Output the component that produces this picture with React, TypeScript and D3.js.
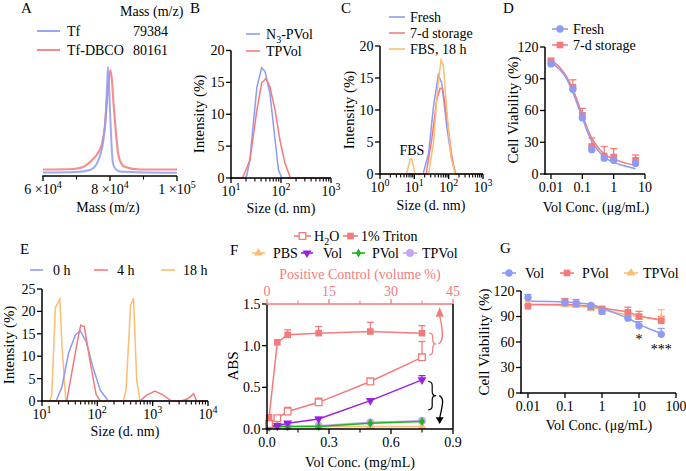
import React from "react";
import * as d3 from "d3";

const FONT = "'Liberation Serif', 'Times New Roman', Times, serif";
const BLUE = "#8d9bf7";
const RED = "#f47b7b";
const ORANGE = "#fdbd73";
const PURPLE = "#9b1fe0";
const GREEN = "#1fb51f";
const LAVENDER = "#c4a6f2";
const PINK = "#f47b7b";

// ---------- A: mass spectra ----------
const aTfMass = [60000, 70000, 74000, 76000, 77000, 78000, 78700, 79200, 79384, 79700, 80000, 80200, 80500, 81000, 82000, 83000, 88000, 100000];
const aTfInt = [3.5, 4, 6, 12, 20, 35, 60, 95, 109, 92, 65, 50, 28, 11, 6, 4.5, 3.8, 3.3];
const aDbMass = [60000, 69000, 72000, 74000, 76000, 77500, 78500, 79000, 79600, 80161, 80600, 81000, 81500, 82000, 82500, 83500, 84500, 89000, 100000];
const aDbInt = [6.5, 7, 9, 14, 21, 31, 50, 71, 95, 106, 95, 75, 54, 35, 21, 12, 9, 6.5, 6.5];
const aTicks = [60000, 80000, 100000];
const aMinor = [70000, 90000];
const aLegendNames = ["Tf", "Tf-DBCO"];
const aLegendMass = ["79384", "80161"];

// ---------- B: DLS ----------
const bN3Size = [10, 19, 20.6, 24, 26, 33, 41, 48, 60, 76, 89, 103, 1000];
const bN3Int = [0, 0, 0.3, 3, 6, 14.3, 17.3, 16.7, 13.3, 6, 1.3, 0, 0];
const bTPSize = [10, 17, 24, 33, 41, 50, 60, 76, 95, 120, 155, 1000];
const bTPInt = [0, 0, 2.8, 10.7, 14.9, 15.6, 14.3, 10.7, 6, 2.3, 0, 0];
const bYTicks = [0, 5, 10, 15, 20];

// ---------- C: DLS stability ----------
const cFreshSize = [1, 18, 26, 36, 50, 63, 88, 123, 161, 1000];
const cFreshInt = [0, 0, 3.2, 10.5, 15.5, 14.2, 7.4, 2.2, 0, 0];
const c7dSize = [1, 22, 32, 45, 56, 67, 88, 120, 155, 1000];
const c7dInt = [0, 0, 5.3, 11.6, 13.4, 13.3, 9, 3.2, 0, 0];
const cFBSSize = [1, 6, 7.5, 8.4, 10.5, 26, 36, 48, 60, 70, 88, 117, 155, 1000];
const cFBSInt = [0, 0, 2.3, 2.4, 0, 0, 4.8, 13.6, 17.8, 17, 10, 2.7, 0, 0];
const cYTicks = [0, 5, 10, 15, 20];

// ---------- D: viability ----------
const dConc = [0.01, 0.05, 0.1, 0.2, 0.5, 1, 5];
const dFresh = [104, 80, 53, 23, 15, 13, 10];
const dFreshErr = [3, 3, 5, 3, 2, 2, 2];
const d7d = [107, 82, 55, 26, 17, 16, 13];
const d7dErr = [2, 7, 7, 8, 9, 8, 5];
const dFitConc = [0.01, 0.02, 0.03, 0.05, 0.1, 0.2, 0.5, 1, 2, 5];
const dFreshFit = [106, 98, 91, 77, 53, 31, 16, 11, 8, 5];
const d7dFit = [108, 100, 93, 80, 56, 34, 19, 14, 11, 8];
const dYTicks = [0, 30, 60, 90, 120];
const dXTicks = [0.01, 0.1, 1, 10];

// ---------- E: DLS in serum ----------
const e0Size = [10, 18, 23, 30, 40, 49, 63, 83, 113, 132, 158, 10000];
const e0Int = [0, 0, 3.2, 10.6, 14.7, 15.7, 13.2, 7.6, 2.4, 1.3, 0, 0];
const e4Size = [10, 28, 35, 44, 50, 58, 75, 95, 113, 590, 775, 1100, 1550, 2200, 3300, 4300, 5500, 6200, 10000];
const e4Int = [0, 0, 6.7, 13.6, 16.9, 16.6, 8.4, 1.5, 0, 0, 1.3, 2.2, 1.3, 0, 0, 0.5, 1.6, 0, 0];
const e18Size = [10, 13.7, 15, 17.4, 21, 23, 27, 295, 330, 400, 450, 515, 590, 10000];
const e18Int = [0, 0, 1.2, 20.8, 22.7, 12, 0, 0, 2.5, 21.4, 22.9, 4.7, 0, 0];
const eYTicks = [0, 5, 10, 15, 20, 25];

// ---------- F: hemolysis ----------
const fConc = [0.01, 0.05, 0.1, 0.25, 0.5, 0.75];
const fPosVol = [0.5, 2.5, 5, 12.5, 25, 37.5];
const fTriton = [0.14, 1.04, 1.13, 1.15, 1.17, 1.15];
const fTritonErr = [0, 0, 0.06, 0.08, 0.11, 0.09];
const fH2O = [0.06, 0.13, 0.21, 0.32, 0.57, 0.86];
const fH2OErr = [0, 0.02, 0.05, 0.05, 0.04, 0.19];
const fVol = [0.04, 0.04, 0.07, 0.12, 0.34, 0.59];
const fVolErr = [0, 0, 0.01, 0.02, 0.02, 0.05];
const fPVol = [0.02, 0.03, 0.03, 0.03, 0.07, 0.09];
const fTPVol = [0.03, 0.03, 0.03, 0.04, 0.08, 0.1];
const fPBS = [0.03, 0.03, 0.03, 0.03, 0.03, 0.03];
const fYTicks = [0, 0.5, 1.0, 1.5];
const fXTicks = [0, 0.3, 0.6, 0.9];
const fXMinor = [0.15, 0.45, 0.75];
const fTopTicks = [0, 15, 30, 45];
const fTopMinor = [7.5, 22.5, 37.5];

// ---------- G: viability ----------
const gConc = [0.01, 0.1, 0.2, 0.5, 1, 5, 10, 40];
const gVol = [112, 106, 105, 103, 96, 88, 79, 69];
const gVolErr = [4, 2, 2, 2, 2, 2, 5, 7];
const gPVol = [102, 108, 105, 101, 99, 95, 90, 85];
const gPVolErr = [2, 3, 5, 2, 2, 6, 6, 5];
const gTPVol = [105, 104, 103, 100, 95, 93, 89, 88];
const gTPVolErr = [3, 3, 3, 2, 2, 2, 3, 10];
const gFitConc = [0.01, 0.1, 0.5, 1, 2, 5, 10, 20, 40];
const gVolFit = [108, 107, 104, 100, 95, 88, 81, 75, 70];
const gPVolFit = [104, 104, 102, 100, 98, 95, 91, 88, 86];
const gTPVolFit = [104, 103, 101, 98, 95, 92, 90, 88, 87];
const gYTicks = [0, 30, 60, 90, 120];
const gXTicks = [0.01, 0.1, 1, 10, 100];

type S = (v: number) => number;

const path = (xs: number[], ys: number[], x: S, y: S, curve: any = d3.curveLinear) =>
  d3.line<number>().x((i) => x(xs[i])).y((i) => y(ys[i])).curve(curve)(xs.map((_, i) => i)) || "";

const sym = (type: any, size: number) => d3.symbol().type(type).size(size)() || "";

const sup = (base: string, e: number | string) => (
  <>
    {base}
    <tspan dy={-6} fontSize={10}>{e}</tspan>
  </>
);

const fmtNum = (t: number) => String(t);
const TS: React.CSSProperties = { fontFamily: FONT };

function T(props: any) {
  return <text {...props} style={TS} />;
}

function AxisLeft({ y, x, ticks, fmt = fmtNum }: any) {
  const [r0, r1] = y.range();
  return (
    <g>
      {ticks.map((t: number) => (
        <g key={t}>
          <line x1={x - 5} x2={x} y1={y(t)} y2={y(t)} stroke="#000" strokeWidth={1.3} />
          <T x={x - 6.5} y={y(t)} dy="0.35em" textAnchor="end" fontSize={14}>
            {fmt(t)}
          </T>
        </g>
      ))}
      <line x1={x} x2={x} y1={r0 + 0.7} y2={r1} stroke="#000" strokeWidth={1.5} />
    </g>
  );
}

function AxisBottom({ x, y, ticks, labels, minor = [], color = "#000", top = false }: any) {
  const [r0, r1] = x.range();
  const dir = top ? -1 : 1;
  return (
    <g>
      {ticks.map((t: number, i: number) => (
        <g key={"t" + i}>
          <line x1={x(t)} x2={x(t)} y1={y} y2={y + 5 * dir} stroke={color} strokeWidth={1.3} />
          <T x={x(t)} y={top ? y - 8 : y + 18} textAnchor="middle" fontSize={14} fill={color}>
            {labels[i]}
          </T>
        </g>
      ))}
      {minor.map((t: number, i: number) => (
        <line key={"m" + i} x1={x(t)} x2={x(t)} y1={y} y2={y + 3.5 * dir} stroke={color} strokeWidth={1.1} />
      ))}
      <line x1={r0 - 0.7} x2={r1} y1={y} y2={y} stroke={color} strokeWidth={1.5} />
    </g>
  );
}

const logMinor = (lo: number, hi: number) => {
  const out: number[] = [];
  for (let d = lo; d < hi; d *= 10) for (let k = 2; k <= 9; k++) out.push(d * k);
  return out;
};

function YTitle({ x, y, text, size = 15 }: any) {
  return (
    <T transform={`translate(${x},${y}) rotate(-90)`} textAnchor="middle" dy="0.35em" fontSize={size}>
      {text}
    </T>
  );
}

function ErrUp({ xs, ys, es, x, y, color }: any) {
  return (
    <g stroke={color} strokeWidth={1.3}>
      {xs.map((v: number, i: number) =>
        es[i] > 0 ? (
          <g key={i}>
            <line x1={x(v)} x2={x(v)} y1={y(ys[i])} y2={y(ys[i] + es[i])} />
            <line x1={x(v) - 3.5} x2={x(v) + 3.5} y1={y(ys[i] + es[i])} y2={y(ys[i] + es[i])} />
          </g>
        ) : null
      )}
    </g>
  );
}

function Marks({ xs, ys, x, y, d, fill, stroke = "none", rot = 0 }: any) {
  return (
    <g>
      {xs.map((v: number, i: number) => (
        <path
          key={i}
          d={d}
          transform={`translate(${x(v)},${y(ys[i])}) rotate(${rot})`}
          fill={fill}
          stroke={stroke}
          strokeWidth={1.3}
        />
      ))}
    </g>
  );
}

function LegendItem({ x1, x2, y, color, text, d, fill, stroke = "none", rot = 0, tx }: any) {
  return (
    <g>
      <line x1={x1} x2={x2} y1={y} y2={y} stroke={color} strokeWidth={1.6} />
      {d ? (
        <path d={d} transform={`translate(${(x1 + x2) / 2},${y}) rotate(${rot})`} fill={fill} stroke={stroke} strokeWidth={1.3} />
      ) : null}
      <T x={tx} y={y + 5} fontSize={14}>
        {text}
      </T>
    </g>
  );
}

const brace = (x: number, y1: number, y2: number, w: number) => {
  const ym = (y1 + y2) / 2;
  const h = w / 2;
  return `M${x},${y1} Q${x + h},${y1} ${x + h},${y1 + 4} L${x + h},${ym - 4} Q${x + h},${ym} ${x + w},${ym} Q${x + h},${ym} ${x + h},${ym + 4} L${x + h},${y2 - 4} Q${x + h},${y2} ${x},${y2}`;
};

export default function App() {
  const xA = d3.scaleLinear().domain([60000, 100000]).range([43, 177]);
  const yA = d3.scaleLinear().domain([0, 110]).range([176, 66]);
  const xB = d3.scaleLog().domain([10, 1000]).range([231, 331]);
  const yB = d3.scaleLinear().domain([0, 20]).range([178, 50.5]);
  const xC = d3.scaleLog().domain([1, 1000]).range([380, 483]);
  const yC = d3.scaleLinear().domain([0, 20]).range([174, 46]);
  const xD = d3.scaleLog().domain([0.00644, 10]).range([545, 645]);
  const yD = d3.scaleLinear().domain([0, 120]).range([174, 47]);
  const xE = d3.scaleLog().domain([10, 10000]).range([42, 208]);
  const yE = d3.scaleLinear().domain([0, 25]).range([401, 289]);
  const xF = d3.scaleLinear().domain([0, 0.9]).range([267, 453]);
  const xFt = d3.scaleLinear().domain([0, 45]).range([267, 453]);
  const yF = d3.scaleLinear().domain([0, 1.5]).range([429, 304]);
  const xG = d3.scaleLog().domain([0.00647, 100]).range([521, 676]);
  const yG = d3.scaleLinear().domain([0, 120]).range([393, 291]);

  const circle = sym(d3.symbolCircle, 42);
  const square = sym(d3.symbolSquare, 44);
  const tri = sym(d3.symbolTriangle, 34);
  const diamond = sym(d3.symbolDiamond, 24);
  const smallCircle = sym(d3.symbolCircle, 48);

  const smooth = d3.curveMonotoneX;

  return (
    <svg width={686} height={471} style={{ position: "absolute", left: 0, top: 0, background: "#fff", fontFamily: FONT }}>
      <rect x={0} y={0} width={686} height={471} fill="#fff" />

      {/* ================= A ================= */}
      <g>
        <T x={21} y={13} fontSize={15}>A</T>
        <T x={120} y={16} fontSize={14}>Mass (m/z)</T>
        {[BLUE, RED].map((c, i) => (
          <g key={i}>
            <line x1={37} x2={60} y1={31 + i * 19} y2={31 + i * 19} stroke={c} strokeWidth={1.8} />
            <T x={67} y={36 + i * 19} fontSize={14}>{aLegendNames[i]}</T>
            <T x={133} y={36 + i * 19} fontSize={14}>{aLegendMass[i]}</T>
          </g>
        ))}
        <path d={path(aDbMass, aDbInt, xA, yA, smooth)} fill="none" stroke={RED} strokeWidth={2.2} strokeOpacity={0.85} />
        <path d={path(aTfMass, aTfInt, xA, yA, smooth)} fill="none" stroke={BLUE} strokeWidth={2} strokeOpacity={0.85} />
        <AxisBottom x={xA} y={176} ticks={aTicks} minor={aMinor} labels={[sup("6 ×10", 4), sup("8 ×10", 4), sup("1 ×10", 5)]} />
        <T x={108} y={212} textAnchor="middle" fontSize={14}>Mass (m/z)</T>
      </g>

      {/* ================= B ================= */}
      <g>
        <T x={190} y={13} fontSize={15}>B</T>
        <LegendItem x1={246} x2={260} y={34} color={BLUE} tx={266} text={<>N<tspan dy={4} fontSize={10}>3</tspan><tspan dy={-4}>-PVol</tspan></>} />
        <LegendItem x1={246} x2={260} y={51} color={RED} tx={266} text="TPVol" />
        <path d={path(bN3Size, bN3Int, xB, yB)} fill="none" stroke={BLUE} strokeWidth={1.5} />
        <path d={path(bTPSize, bTPInt, xB, yB)} fill="none" stroke={RED} strokeWidth={1.5} />
        <AxisLeft y={yB} x={231} ticks={bYTicks} />
        <AxisBottom x={xB} y={178} ticks={[10, 100, 1000]} minor={logMinor(10, 1000)} labels={[sup("10", 1), sup("10", 2), sup("10", 3)]} />
        <YTitle x={199} y={114} text="Intensity (%)" />
        <T x={281} y={213} textAnchor="middle" fontSize={14}>Size (d. nm)</T>
      </g>

      {/* ================= C ================= */}
      <g>
        <T x={341} y={13} fontSize={15}>C</T>
        <LegendItem x1={389} x2={405} y={17} color={BLUE} tx={410} text="Fresh" />
        <LegendItem x1={389} x2={405} y={33} color={RED} tx={410} text="7-d storage" />
        <LegendItem x1={389} x2={405} y={49} color={ORANGE} tx={410} text="FBS, 18 h" />
        <path d={path(cFreshSize, cFreshInt, xC, yC)} fill="none" stroke={BLUE} strokeWidth={1.5} />
        <path d={path(c7dSize, c7dInt, xC, yC)} fill="none" stroke={RED} strokeWidth={1.5} />
        <path d={path(cFBSSize, cFBSInt, xC, yC)} fill="none" stroke={ORANGE} strokeWidth={1.5} />
        <T x={xC(8.5)} y={155} textAnchor="middle" fontSize={14}>FBS</T>
        <AxisLeft y={yC} x={380} ticks={cYTicks} />
        <AxisBottom x={xC} y={174} ticks={[1, 10, 100, 1000]} minor={logMinor(1, 1000)} labels={[sup("10", 0), sup("10", 1), sup("10", 2), sup("10", 3)]} />
        <YTitle x={349} y={110} text="Intensity (%)" />
        <T x={431} y={210} textAnchor="middle" fontSize={14}>Size (d. nm)</T>
      </g>

      {/* ================= D ================= */}
      <g>
        <T x={503} y={13} fontSize={15}>D</T>
        <LegendItem x1={552} x2={568} y={29} color={BLUE} d={circle} fill={BLUE} tx={573} text="Fresh" />
        <LegendItem x1={552} x2={568} y={45} color={RED} d={square} fill={RED} tx={573} text="7-d storage" />
        <path d={path(dFitConc, d7dFit, xD, yD, d3.curveCatmullRom)} fill="none" stroke={RED} strokeWidth={1.5} />
        <path d={path(dFitConc, dFreshFit, xD, yD, d3.curveCatmullRom)} fill="none" stroke={BLUE} strokeWidth={1.5} />
        <ErrUp xs={dConc} ys={d7d} es={d7dErr} x={xD} y={yD} color={RED} />
        <ErrUp xs={dConc} ys={dFresh} es={dFreshErr} x={xD} y={yD} color={BLUE} />
        <Marks xs={dConc} ys={d7d} x={xD} y={yD} d={square} fill={RED} />
        <Marks xs={dConc} ys={dFresh} x={xD} y={yD} d={circle} fill={BLUE} />
        <AxisLeft y={yD} x={545} ticks={dYTicks} />
        <AxisBottom x={xD} y={174} ticks={dXTicks} labels={dXTicks.map((t) => String(t))} />
        <YTitle x={513} y={110} text="Cell Viability (%)" />
        <T x={596} y={212} textAnchor="middle" fontSize={14}>Vol Conc. (μg/mL)</T>
      </g>

      {/* ================= E ================= */}
      <g>
        <T x={20} y={254} fontSize={15}>E</T>
        <LegendItem x1={30} x2={43} y={270} color={BLUE} tx={53} text="0 h" />
        <LegendItem x1={94} x2={108} y={270} color={RED} tx={117} text="4 h" />
        <LegendItem x1={161} x2={175} y={270} color={ORANGE} tx={183} text="18 h" />
        <path d={path(e18Size, e18Int, xE, yE)} fill="none" stroke={ORANGE} strokeWidth={1.5} />
        <path d={path(e0Size, e0Int, xE, yE)} fill="none" stroke={BLUE} strokeWidth={1.5} />
        <path d={path(e4Size, e4Int, xE, yE)} fill="none" stroke={RED} strokeWidth={1.5} />
        <AxisLeft y={yE} x={42} ticks={eYTicks} />
        <AxisBottom x={xE} y={401} ticks={[10, 100, 1000, 10000]} minor={logMinor(10, 10000)} labels={[sup("10", 1), sup("10", 2), sup("10", 3), sup("10", 4)]} />
        <YTitle x={9} y={345} text="Intensity (%)" />
        <T x={125} y={436} textAnchor="middle" fontSize={14}>Size (d. nm)</T>
      </g>

      {/* ================= F ================= */}
      <g>
        <T x={230} y={255} fontSize={15}>F</T>
        <LegendItem x1={294} x2={311} y={236} color={PINK} d={square} fill="#fff" stroke={PINK} tx={314} text={<>H<tspan dy={4} fontSize={10}>2</tspan><tspan dy={-4}>O</tspan></>} />
        <LegendItem x1={343} x2={358} y={236} color={PINK} d={square} fill={PINK} tx={361} text="1% Triton" />
        <LegendItem x1={252} x2={265} y={253} color={ORANGE} d={tri} fill={ORANGE} tx={273} text="PBS" />
        <LegendItem x1={301} x2={313} y={253} color={PURPLE} d={tri} fill={PURPLE} rot={180} tx={323} text="Vol" />
        <LegendItem x1={352} x2={365} y={253} color={GREEN} d={diamond} fill={GREEN} tx={372} text="PVol" />
        <LegendItem x1={403} x2={417} y={253} color={LAVENDER} d={smallCircle} fill={LAVENDER} tx={422} text="TPVol" />

        <T x={360} y={279} textAnchor="middle" fontSize={14} fill={PINK}>Positive Control (volume %)</T>

        <path d={path(fConc, fPBS, xF, yF)} fill="none" stroke={ORANGE} strokeWidth={1.5} />
        <Marks xs={fConc} ys={fPBS} x={xF} y={yF} d={tri} fill={ORANGE} />
        <path d={path(fConc, fTPVol, xF, yF)} fill="none" stroke={LAVENDER} strokeWidth={1.5} />
        <Marks xs={fConc} ys={fTPVol} x={xF} y={yF} d={smallCircle} fill={LAVENDER} />
        <path d={path(fConc, fPVol, xF, yF)} fill="none" stroke={GREEN} strokeWidth={1.5} />
        <Marks xs={fConc} ys={fPVol} x={xF} y={yF} d={diamond} fill={GREEN} />
        <path d={path(fConc, fVol, xF, yF)} fill="none" stroke={PURPLE} strokeWidth={1.5} />
        <ErrUp xs={fConc} ys={fVol} es={fVolErr} x={xF} y={yF} color={PURPLE} />
        <Marks xs={fConc} ys={fVol} x={xF} y={yF} d={tri} fill={PURPLE} rot={180} />

        <path d={path(fPosVol, fH2O, xFt, yF)} fill="none" stroke={PINK} strokeWidth={1.5} />
        <ErrUp xs={fPosVol} ys={fH2O} es={fH2OErr} x={xFt} y={yF} color={PINK} />
        <Marks xs={fPosVol} ys={fH2O} x={xFt} y={yF} d={square} fill="#fff" stroke={PINK} />
        <path d={path(fPosVol, fTriton, xFt, yF)} fill="none" stroke={PINK} strokeWidth={1.5} />
        <ErrUp xs={fPosVol} ys={fTriton} es={fTritonErr} x={xFt} y={yF} color={PINK} />
        <Marks xs={fPosVol} ys={fTriton} x={xFt} y={yF} d={square} fill={PINK} />

        <path d={brace(xF(0.785), yF(1.15), yF(0.89), 7)} fill="none" stroke={PINK} strokeWidth={1.2} />
        <path d={`M${xF(0.79) + 8},${yF(1.02)} C${xF(0.84) + 4},${yF(1.05)} ${xF(0.85)},${yF(1.2)} ${xF(0.85) - 3},${yF(1.36)}`} fill="none" stroke={PINK} strokeWidth={1.3} />
        <path d={`M${xF(0.85) - 3},${yF(1.5) + 3} L${xF(0.85) - 7},${yF(1.36) + 1} L${xF(0.85) + 1},${yF(1.36) + 1} Z`} fill={PINK} />
        <path d={brace(xF(0.78), yF(0.57), yF(0.23), 8)} fill="none" stroke="#000" strokeWidth={1.2} />
        <path d={`M${xF(0.79) + 9},${yF(0.4)} C${xF(0.84) + 4},${yF(0.37)} ${xF(0.85)},${yF(0.3)} ${xF(0.85) - 3},${yF(0.13)}`} fill="none" stroke="#000" strokeWidth={1.3} />
        <path d={`M${xF(0.85) - 3},${yF(0.06)} L${xF(0.85) - 7},${yF(0.14)} L${xF(0.85) + 1},${yF(0.14)} Z`} fill="#000" />

        <AxisLeft y={yF} x={267} ticks={fYTicks} fmt={(t: number) => t.toFixed(1)} />
        <AxisBottom x={xF} y={429} ticks={fXTicks} minor={fXMinor} labels={fXTicks.map((t) => t.toFixed(1))} />
        <AxisBottom x={xFt} y={304} ticks={fTopTicks} minor={fTopMinor} labels={fTopTicks.map(String)} color={PINK} top />
        <line x1={453} x2={453} y1={304} y2={429} stroke="#000" strokeWidth={1.5} />
        <YTitle x={233} y={366} text="ABS" />
        <T x={360} y={467} textAnchor="middle" fontSize={14}>Vol Conc. (mg/mL)</T>
      </g>

      {/* ================= G ================= */}
      <g>
        <T x={500} y={253} fontSize={15}>G</T>
        <LegendItem x1={502} x2={516} y={273} color={BLUE} d={circle} fill={BLUE} tx={525} text="Vol" />
        <LegendItem x1={560} x2={574} y={273} color={RED} d={square} fill={RED} tx={582} text="PVol" />
        <LegendItem x1={624} x2={638} y={273} color={ORANGE} d={tri} fill={ORANGE} tx={643} text="TPVol" />
        <path d={path(gFitConc, gTPVolFit, xG, yG, d3.curveCatmullRom)} fill="none" stroke={ORANGE} strokeWidth={1.5} />
        <path d={path(gFitConc, gPVolFit, xG, yG, d3.curveCatmullRom)} fill="none" stroke={RED} strokeWidth={1.5} />
        <path d={path(gFitConc, gVolFit, xG, yG, d3.curveCatmullRom)} fill="none" stroke={BLUE} strokeWidth={1.5} />
        <ErrUp xs={gConc} ys={gTPVol} es={gTPVolErr} x={xG} y={yG} color={ORANGE} />
        <ErrUp xs={gConc} ys={gPVol} es={gPVolErr} x={xG} y={yG} color={RED} />
        <ErrUp xs={gConc} ys={gVol} es={gVolErr} x={xG} y={yG} color={BLUE} />
        <Marks xs={gConc} ys={gTPVol} x={xG} y={yG} d={tri} fill={ORANGE} />
        <Marks xs={gConc} ys={gPVol} x={xG} y={yG} d={square} fill={RED} />
        <Marks xs={gConc} ys={gVol} x={xG} y={yG} d={circle} fill={BLUE} />
        <T x={xG(10)} y={yG(58)} textAnchor="middle" fontSize={14}>*</T>
        <T x={xG(40)} y={yG(46)} textAnchor="middle" fontSize={14}>***</T>
        <AxisLeft y={yG} x={521} ticks={gYTicks} />
        <AxisBottom x={xG} y={393} ticks={gXTicks} labels={gXTicks.map((t) => String(t))} />
        <YTitle x={484} y={342} text="Cell Viability (%)" />
        <T x={599} y={430} textAnchor="middle" fontSize={14}>Vol Conc. (μg/mL)</T>
      </g>
    </svg>
  );
}
